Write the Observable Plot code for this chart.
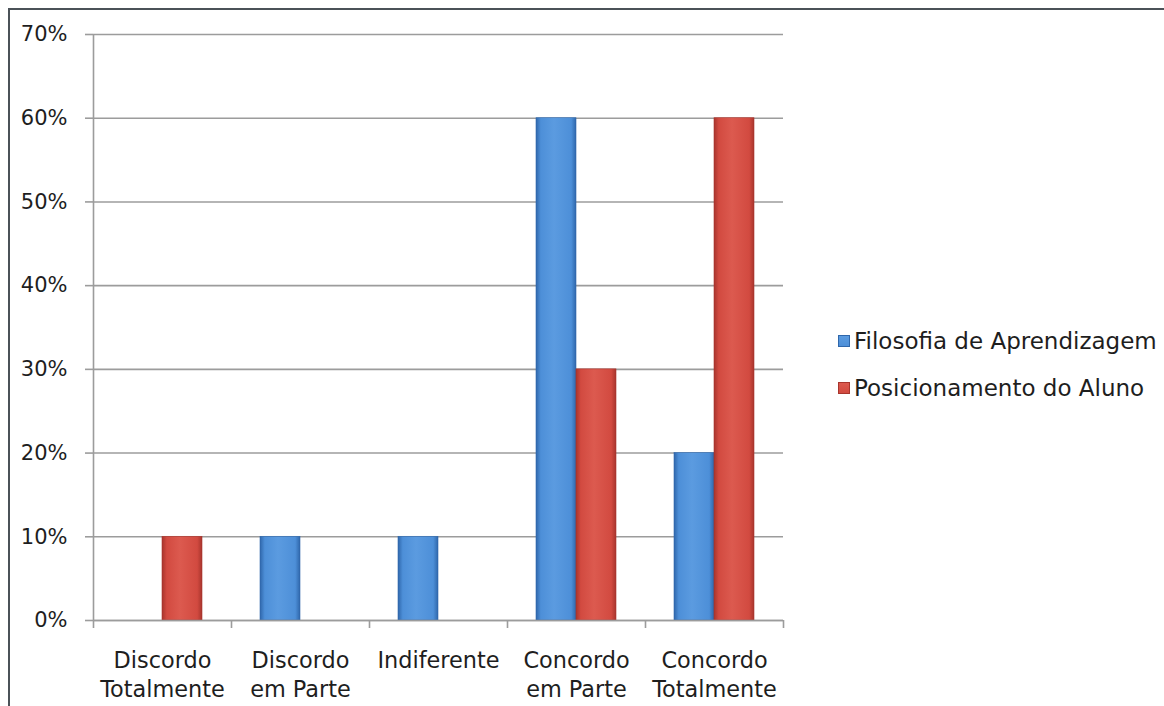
<!DOCTYPE html>
<html>
<head>
<meta charset="utf-8">
<script src="https://cdn.jsdelivr.net/npm/d3@7"></script>
<script src="https://cdn.jsdelivr.net/npm/@observablehq/plot@0.6"></script>
<style>
  html, body { margin: 0; padding: 0; background: #fff; }
  #page { position: relative; width: 1164px; height: 706px; overflow: hidden; font-family: "DejaVu Sans", sans-serif; }
  #frame { position: absolute; left: 8px; top: 8px; right: -10px; bottom: -10px; border-top: 2px solid #4b5258; border-left: 2px solid #4b5258; }
  #chart { position: absolute; left: 0; top: 0; }
  #legend { position: absolute; left: 838px; top: 327px; font-size: 23px; color: #1e1e1e; }
  #legend .item { display: flex; align-items: center; height: 28px; margin-bottom: 19px; white-space: nowrap; }
  #legend .sw { width: 12px; height: 12px; margin-right: 4px; box-sizing: border-box; }
</style>
</head>
<body>
<div id="page">
  <div id="frame"></div>
  <div id="chart"></div>
  <div id="legend"></div>
</div>
<script>
// Survey answers, share of respondents per answer
const categories = ["Discordo Totalmente", "Discordo em Parte", "Indiferente", "Concordo em Parte", "Concordo Totalmente"];
const categoryLabels = ["Discordo\nTotalmente", "Discordo\nem Parte", "Indiferente", "Concordo\nem Parte", "Concordo\nTotalmente"];
const seriesNames = ["Filosofia de Aprendizagem", "Posicionamento do Aluno"];
const filosofia = [0, 0.10, 0.10, 0.60, 0.20];
const posicionamento = [0.10, 0, 0, 0.30, 0.60];
const yTicks = [0, 0.1, 0.2, 0.3, 0.4, 0.5, 0.6, 0.7];

const colors = {
  blue: {edge: "#2f67ab", mid: "#4d8fd8", light: "#5b9be0"},
  red: {edge: "#a8352d", mid: "#d24a40", light: "#dc5a4f"}
};

// one row per answer and series; each answer occupies the slot [i, i + 1]
const rows = (values, series) => values
  .map((v, i) => ({category: categories[i], i, series, value: v}))
  .filter(d => d.value > 0);
const rowsF = rows(filosofia, seriesNames[0]);
const rowsP = rows(posicionamento, seriesNames[1]);

const boundaries = d3.range(categories.length + 1);
const centers = categories.map((_, i) => i + 0.5);

// horizontal shading for the bevelled bars
const gradients = () => {
  const defs = d3.create("svg:defs");
  for (const [id, c] of Object.entries(colors)) {
    const g = defs.append("linearGradient").attr("id", "grad-" + id).attr("x1", "0").attr("x2", "1").attr("y1", "0").attr("y2", "0");
    g.append("stop").attr("offset", "0%").attr("stop-color", c.edge);
    g.append("stop").attr("offset", "12%").attr("stop-color", c.mid);
    g.append("stop").attr("offset", "45%").attr("stop-color", c.light);
    g.append("stop").attr("offset", "88%").attr("stop-color", c.mid);
    g.append("stop").attr("offset", "100%").attr("stop-color", c.edge);
  }
  return defs.node();
};

const font = "DejaVu Sans";

const chart = Plot.plot({
  width: 820,
  height: 706,
  marginTop: 34,
  marginBottom: 86,
  marginLeft: 93,
  marginRight: 37,
  style: {fontFamily: font, fontSize: "20px", color: "#1e1e1e", background: "transparent"},
  x: {domain: [0, categories.length], axis: null, label: null},
  y: {domain: [0, 0.7], axis: null, label: null},
  marks: [
    gradients,
    Plot.gridY(yTicks, {stroke: "#9c9c9c", strokeOpacity: 1, strokeWidth: 1.6}),
    Plot.axisY(yTicks, {tickFormat: d3.format(".0%"), tickSize: 8, tickPadding: 18, stroke: "#9c9c9c", strokeWidth: 1.6, fill: "#1e1e1e", fontSize: 21, label: null}),
    Plot.rectY(rowsF, {x1: "i", x2: d => d.i + 1, y: "value", insetLeft: 29, insetRight: 69, fill: "url(#grad-blue)", stroke: colors.blue.edge, strokeWidth: 0.6}),
    Plot.rectY(rowsP, {x1: "i", x2: d => d.i + 1, y: "value", insetLeft: 69, insetRight: 29, fill: "url(#grad-red)", stroke: colors.red.edge, strokeWidth: 0.6}),
    Plot.ruleY([0], {stroke: "#9c9c9c", strokeWidth: 1.6}),
    Plot.ruleX([0], {stroke: "#9c9c9c", strokeWidth: 1.6}),
    Plot.axisX(boundaries, {tickSize: 8, stroke: "#9c9c9c", strokeWidth: 1.6, text: null, label: null}),
    Plot.axisX(centers, {tickSize: 0, tickPadding: 26, tickFormat: d => categoryLabels[Math.floor(d)], lineHeight: 1.33, fill: "#1e1e1e", fontSize: 22.4, label: null})
  ]
});
document.getElementById("chart").appendChild(chart);

// legend beside the plot
const legend = d3.select("#legend");
[[seriesNames[0], colors.blue], [seriesNames[1], colors.red]].forEach(([name, c]) => {
  const item = legend.append("div").attr("class", "item");
  item.append("div").attr("class", "sw")
    .style("background", `linear-gradient(to bottom, ${c.light}, ${c.mid})`)
    .style("border", `1px solid ${c.edge}`);
  item.append("span").text(name);
});
</script>
</body>
</html>
